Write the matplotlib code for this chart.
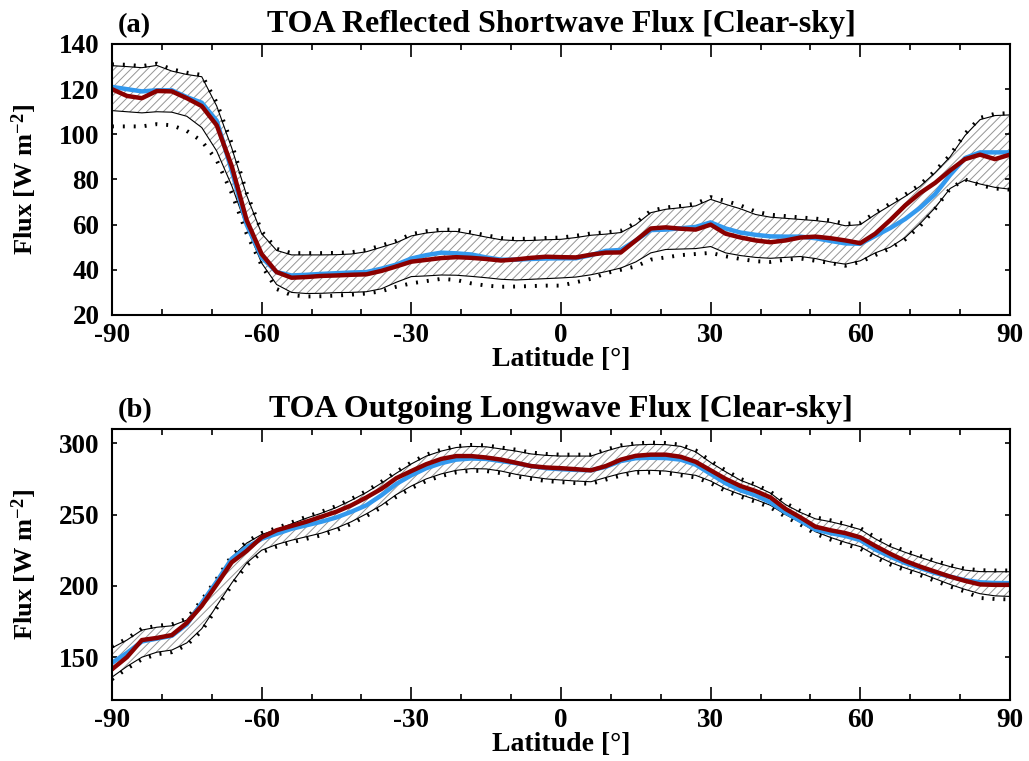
import numpy as np
import matplotlib
matplotlib.use('Agg')
import matplotlib.pyplot as plt
from matplotlib.ticker import MultipleLocator

plt.rcParams['font.family'] = ['Liberation Serif', 'DejaVu Serif']
plt.rcParams['font.weight'] = 'bold'
plt.rcParams['mathtext.fontset'] = 'custom'
plt.rcParams['mathtext.rm'] = 'Liberation Serif:bold'
plt.rcParams['mathtext.it'] = 'Liberation Serif:bold'
plt.rcParams['mathtext.bf'] = 'Liberation Serif:bold'
plt.rcParams['axes.unicode_minus'] = False
plt.rcParams['hatch.linewidth'] = 0.7

# latitude grid, every 3 degrees
lat = np.arange(-90, 91, 3)

# (a) TOA reflected shortwave, clear-sky
sw_obs = [121, 120, 119, 119.5, 119.5, 116.5, 114, 106, 84, 60, 45.5, 39, 37.5, 37.8, 38.2, 38.5,
          38.8, 39, 40.5, 42.3, 45, 46.5, 47.6, 47.3, 46.8, 45.5, 44.5, 44.5, 44.8, 45, 45.1,
          45.1, 46.5, 48.4, 48.8, 53, 57.6, 57.8, 58.4, 59, 61, 58.3, 56.5, 55.5, 54.8, 54.7,
          54.7, 54, 52.8, 51.7, 51.5, 55, 58.5, 62.5, 67.5, 73.5, 82, 89.5, 92, 92, 92]
sw_mod = [120, 117, 116, 119.2, 119, 116, 112.5, 104, 86, 62, 47, 39, 36.5, 36.8, 37.3, 37.5,
          37.8, 38, 39.5, 41.5, 43.6, 44.4, 45.2, 45.6, 45.3, 44.8, 44.1, 44.6, 45.3, 45.8, 45.6,
          45.5, 46.7, 47.6, 47.7, 53, 58.3, 58.8, 58.2, 57.8, 60, 56, 54.3, 53, 52.2, 53,
          54.3, 54.7, 54, 53, 51.8, 56, 62, 68.5, 74, 78.5, 84, 89, 91, 89, 91]
sw_hi = [130.4, 130, 129.5, 130.5, 128, 126.5, 125.5, 112.5, 94, 73, 56, 48.6, 46.6, 46.6, 46.6, 46.7,
         47, 48, 50, 52, 55, 56.3, 57, 57, 55.8, 54.5, 53.3, 52.9, 53, 53.3, 53.5,
         54.3, 55.3, 55.8, 56.5, 60, 65.3, 66.8, 67.5, 68.3, 71.2, 69, 67, 64.5, 63.3, 62.8,
         62.3, 61.8, 61, 59.5, 60, 64.5, 68.5, 72.5, 77, 83, 90, 99.5, 106.5, 108.3, 108.6]
sw_lo = [110.5, 110, 109.5, 110, 109.8, 108, 103, 92.6, 77.3, 59, 43, 33.5, 30, 29.5, 29.6, 29.9,
         30, 30.3, 31.6, 34.5, 37, 37.3, 37.7, 37.6, 37.1, 36.5, 35.8, 35.5, 35.8, 36.1, 36.4,
         36.8, 37.8, 39.2, 40.8, 43.5, 47.5, 49, 49.2, 49.4, 50.3, 47.5, 46.3, 45.5, 45.1, 45.5,
         45.9, 45, 43.5, 42.5, 44, 47.5, 50, 54.3, 60.5, 67.5, 76, 79.8, 78, 76.5, 75.7]
sw_hi2 = [131, 130.8, 130.2, 131.3, 128.8, 127.3, 126.3, 114, 96, 74, 57, 49.3, 47.4, 47.4, 47.4, 47.5,
          47.8, 48.8, 50.8, 52.8, 55.8, 57.1, 57.8, 57.8, 56.6, 55.3, 54.1, 53.7, 53.8, 54.1, 54.3,
          55.1, 56.1, 56.6, 57.3, 60.8, 66.1, 67.6, 68.3, 69.3, 72.2, 70.5, 68.5, 65.8, 64.4, 63.8,
          63.2, 62.7, 61.9, 60.4, 60.8, 65.3, 69.3, 73.3, 77.8, 83.8, 90.8, 100.3, 107.3, 109.1, 109.4]
sw_lo2 = [103.5, 103.5, 103.5, 104.5, 104, 101.5, 97, 88.5, 74, 56, 42, 31.5, 28.8, 28.2, 28.3, 28.6,
          29, 29.5, 30.5, 32.5, 34, 35, 36, 35.5, 34, 33, 32.5, 32.6, 32.8, 33, 33,
          34.5, 36, 38.5, 40, 41.5, 44.5, 45.5, 46.5, 47, 47.5, 46, 44.8, 43.8, 43.5, 44.5,
          45, 44, 43, 41.8, 43.5, 46.5, 49.5, 53.5, 59.5, 67, 76, 80, 77.5, 76, 75.5]

# (b) TOA outgoing longwave, clear-sky
lw_obs = [146, 153, 161, 163, 165, 173, 188, 203, 219, 227, 233, 236.5, 240, 242.5, 245, 248,
          252, 256.5, 263.5, 271.5, 277.5, 282.5, 286, 288.5, 289.3, 289, 287.5, 286, 284, 282.5, 281.8,
          281.3, 281, 283.5, 287.5, 289.5, 289.8, 289.6, 288.5, 285, 278.5, 272, 267, 263.5, 258.5, 251.5,
          245.5, 239.5, 237, 235, 232, 225.5, 220.5, 216, 212.5, 209, 206.5, 204, 202.5, 202, 201.9]
lw_mod = [141.5, 150, 162, 163.5, 165.5, 174, 186, 201, 216.5, 224.5, 234, 239, 242, 245, 248.5, 252,
          256.5, 262, 268, 275.5, 280.5, 285.3, 289, 291, 291, 290, 288.5, 286.3, 284, 283, 282.5,
          281.8, 281, 284, 288.5, 291.2, 292, 292, 290.5, 287, 281, 275, 270, 266.5, 262, 254,
          248, 241.5, 239, 237, 234, 228, 222.5, 217.5, 213.5, 210, 206.5, 203.5, 201, 200.7, 200.7]
lw_hi = [156.5, 162, 169, 171, 172, 176, 189, 204, 220, 230, 236, 239.5, 243.5, 247.5, 251, 255,
         260, 265.5, 272, 279, 285.5, 291, 294.5, 297, 297.8, 297.5, 296, 294.5, 292.5, 291.5, 291,
         291, 291, 294.5, 297.5, 298.8, 299.2, 299, 297.8, 294, 286.5, 280, 274, 270, 265, 257,
         251.5, 247, 245, 242.5, 239.5, 233, 227.5, 223.5, 220, 216.5, 213.5, 211, 210, 209.9, 209.9]
lw_lo = [136, 143.5, 150, 153.5, 155, 160, 170, 186, 202, 216, 225, 229, 232, 234.5, 237, 240.5,
         245, 250.5, 256.5, 264, 270, 275, 278.5, 281, 282.2, 282, 280.5, 278.2, 276.5, 275, 274.2,
         273.5, 273, 276, 278.8, 280.8, 281, 280.5, 279, 277.5, 273.5, 268, 264, 260.5, 256.5, 250,
         244.5, 238, 234, 230.5, 227.5, 221.5, 216.5, 212.5, 209, 205, 201, 197.5, 194.5, 193, 192.6]
lw_hi2 = [157.5, 163, 170, 172, 173, 177, 190, 205, 221, 231, 237, 240.5, 244.5, 248.5, 252, 256,
          261, 266.5, 273, 280, 286.5, 292, 295.5, 298, 298.8, 298.5, 297, 295.5, 293.5, 292.5, 292,
          292, 292, 295.5, 298.5, 300, 300.5, 300.2, 299, 295, 287.5, 281, 275, 271, 266, 258,
          252.5, 248, 246, 243.5, 240.5, 234, 228.5, 224.5, 221, 217.5, 214.5, 212, 211, 210.8, 210.8]
lw_lo2 = [134.5, 142, 148.5, 152, 153.5, 158.5, 168.5, 184.5, 200.5, 214.5, 223.5, 227.5, 230.5, 233, 235.5, 239,
          243.5, 249, 255, 262.5, 268.5, 273.5, 277, 279.5, 280.7, 280.5, 279, 276.7, 275, 273.5, 272.7,
          272, 271.5, 274.5, 277.3, 279.3, 279.5, 279, 277.5, 276, 272, 266.5, 262.5, 259, 255, 248.5,
          243, 236.5, 232.5, 229, 226, 220, 215, 211, 207.5, 203.5, 199.5, 196, 191.5, 190.8, 190.5]

BLUE = '#3399ee'
RED = '#8b0000'


def draw_panel(ax, hi, lo, hi2, lo2, obs, mod, ylim, yticks, tag, title):
    ax.fill_between(lat, lo, hi, facecolor='white', edgecolor='#959595', hatch='////', linewidth=0)
    ax.plot(lat, hi, color='black', lw=0.8)
    ax.plot(lat, lo, color='black', lw=0.8)
    ax.plot(lat, hi2, color='black', lw=2.8, ls=(0, (0.5, 2.3)))
    ax.plot(lat, lo2, color='black', lw=2.8, ls=(0, (0.5, 2.3)))
    ax.plot(lat, obs, color=BLUE, lw=3.2)
    ax.plot(lat, mod, color=RED, lw=3.2)

    ax.set_xlim(-90, 90)
    ax.set_ylim(*ylim)
    ax.xaxis.set_major_locator(MultipleLocator(30))
    ax.xaxis.set_minor_locator(MultipleLocator(10))
    ax.set_yticks(yticks)
    ax.tick_params(which='both', direction='in', top=True, right=True, labelsize=19.5)
    ax.tick_params(axis='x', which='major', length=9.5, width=1.2, pad=6)
    ax.tick_params(axis='x', which='minor', length=4.5, width=1.2)
    ax.tick_params(axis='y', which='major', length=3.5, width=1.2, pad=9)
    for s in ax.spines.values():
        s.set_linewidth(1.5)
    for lab in ax.get_xticklabels() + ax.get_yticklabels():
        lab.set_fontweight('bold')

    ax.text(0.006, 1.044, tag, transform=ax.transAxes, ha='left', va='baseline',
            fontsize=20.5, fontweight='bold')
    ax.text(0.5, 1.044, title, transform=ax.transAxes, ha='center', va='baseline',
            fontsize=23, fontweight='bold')
    ax.text(0.5, -0.19, 'Latitude [°]', transform=ax.transAxes, ha='center', va='baseline',
            fontsize=20, fontweight='bold')
    ax.text(-0.098, 0.5, 'Flux [W m$^{-2}$]', transform=ax.transAxes, ha='center', va='center',
            rotation=90, fontsize=19, fontweight='bold')


fig = plt.figure(figsize=(10.29, 7.61), dpi=100)
ax1 = fig.add_axes([0.1088, 0.5861, 0.8727, 0.3561])
ax2 = fig.add_axes([0.1088, 0.0802, 0.8727, 0.3561])

draw_panel(ax1, sw_hi, sw_lo, sw_hi2, sw_lo2, sw_obs, sw_mod, (20, 140), range(20, 141, 20),
           '(a)', 'TOA Reflected Shortwave Flux [Clear-sky]')
draw_panel(ax2, lw_hi, lw_lo, lw_hi2, lw_lo2, lw_obs, lw_mod, (120, 310), [150, 200, 250, 300],
           '(b)', 'TOA Outgoing Longwave Flux [Clear-sky]')

plt.savefig('out.png', dpi=100)
plt.close()
